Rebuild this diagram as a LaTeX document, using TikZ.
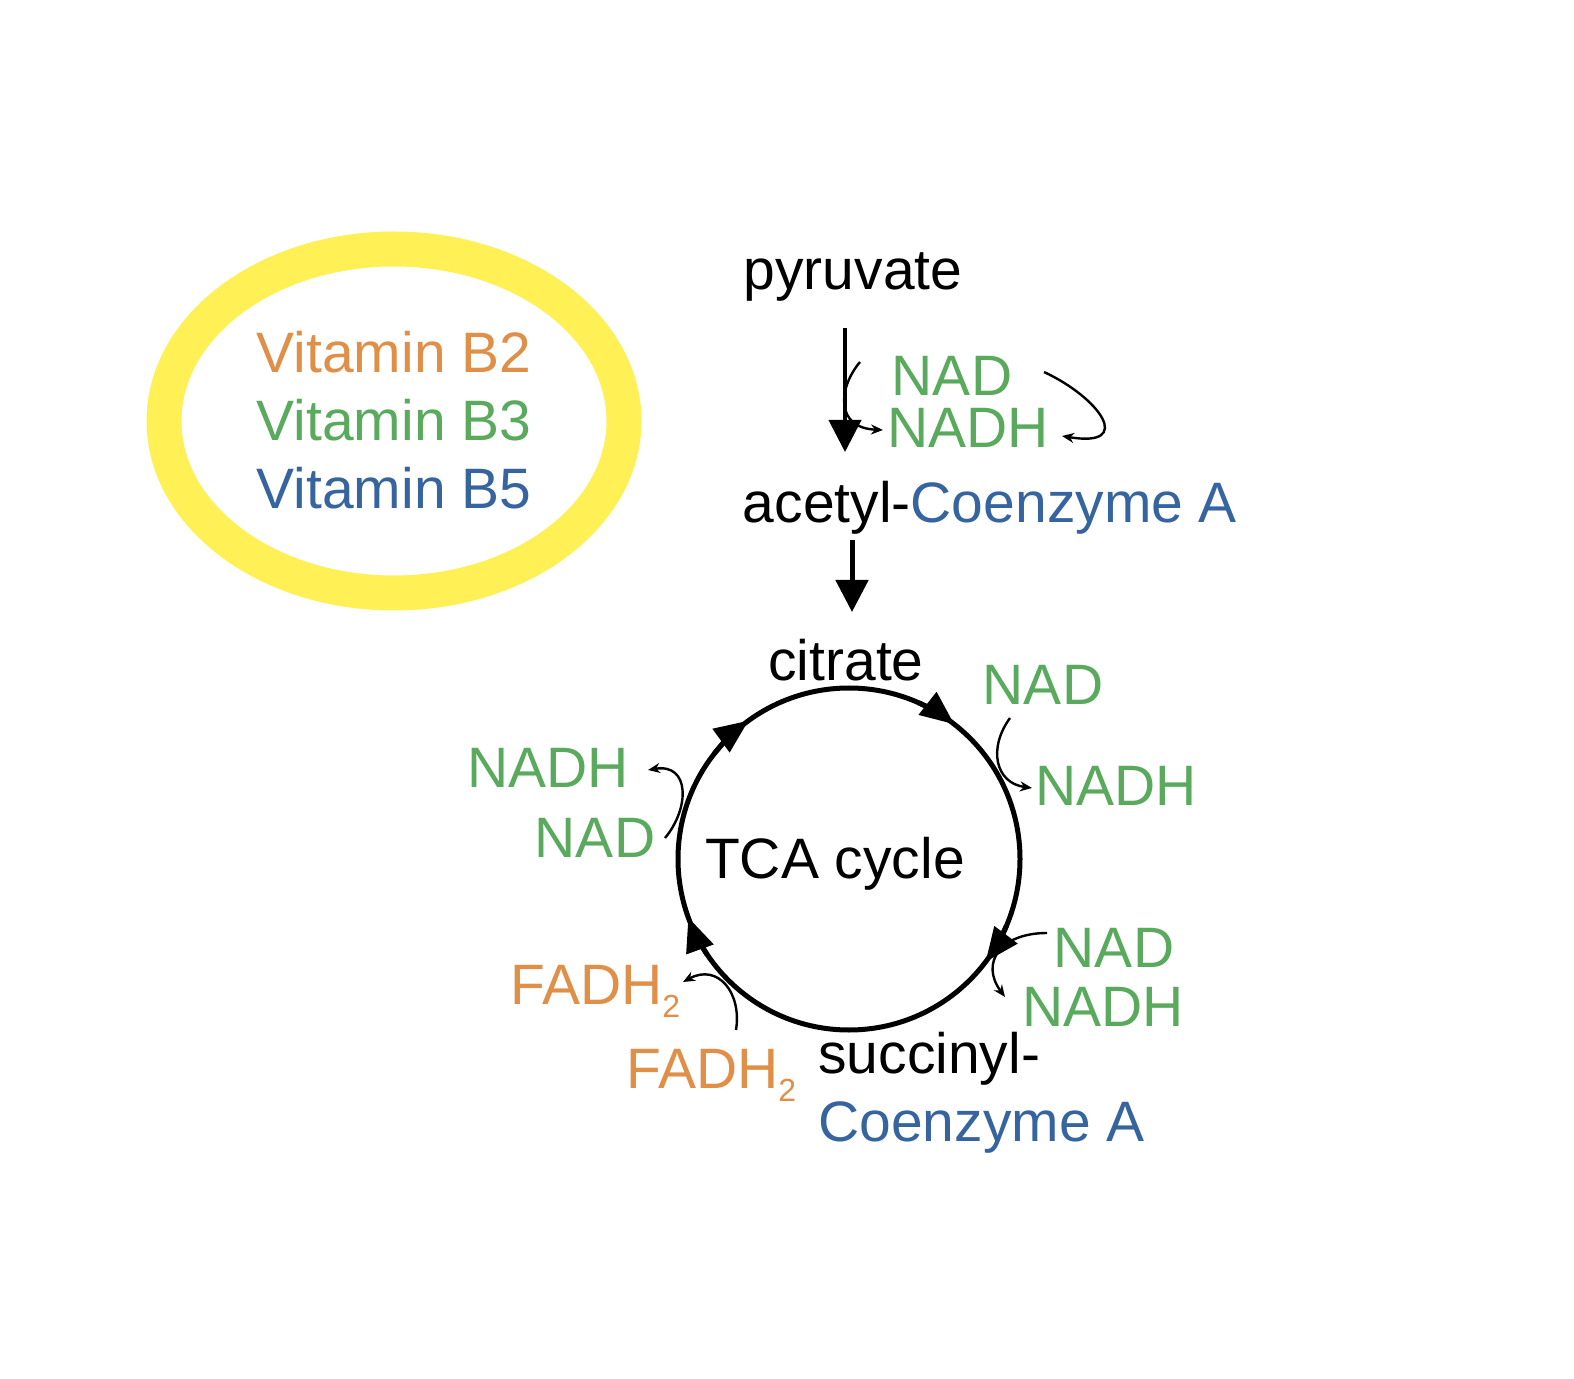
\documentclass[tikz,border=0pt]{standalone}
\usepackage{fontspec}
\setmainfont{Liberation Sans}
\usetikzlibrary{arrows.meta}
\definecolor{yel}{HTML}{FFF055}
\definecolor{org}{HTML}{E08F48}
\definecolor{grn}{HTML}{5AAA5E}
\definecolor{blu}{HTML}{36649E}
\newcommand{\lowsub}[1]{\raisebox{-0.45ex}{\fontsize{16}{18}\selectfont #1}}
\begin{document}
\begin{tikzpicture}[x=0.5pt,y=0.5pt,
  lbl/.style={font=\fontsize{28.5}{32}\selectfont, inner sep=0pt},
  small/.style={line width=1.2pt,-{Stealth[length=6pt,width=5pt]}},
  cyc/.style={line width=2.5pt,-{Triangle[length=17pt,width=14pt]}}]
\useasboundingbox (0,0) rectangle (1574,1378);
% vitamins
\draw[yel,line width=17.5pt] (394,957) ellipse[x radius=115pt,y radius=86pt];
\node[lbl,org] (b2) at (394,1026) {Vitamin B2};
\node[lbl,grn] (b3) at (394,958) {Vitamin B3};
\node[lbl,blu] (b5) at (394,890) {Vitamin B5};
% top
\node[lbl] (pyr) at (853,1101) {pyruvate};
\node[lbl,grn] (nad1) at (952,1002) {NAD};
\node[lbl,grn] (nadh1) at (968,950) {NADH};
\node[lbl] (acoa) at (990,870) {acetyl-\textcolor{blu}{Coenzyme A}};
\node[lbl] (cit) at (846,718) {citrate};
\coordinate (p1) at (845,1050);
\coordinate (p2) at (845,926);
\draw[line width=2pt,-{Triangle[length=16pt,width=16pt]}] (p1) -- (p2);
\coordinate (a1) at (852,838);
\coordinate (a2) at (852,766);
\draw[line width=2.5pt,-{Triangle[length=16pt,width=16pt]}] (a1) -- (a2);
\coordinate (c1s) at (860,1016); \coordinate (c1e) at (883,948);
\draw[small] (c1s) .. controls (838,990) and (835,950) .. (c1e);
\coordinate (c2s) at (1044,1006); \coordinate (c2e) at (1062,942);
\draw[small] (c2s) .. controls (1100,980) and (1135,930) .. (c2e);
% cycle
\coordinate (cc) at (849,519);
\draw[line width=2.5pt] (cc) circle[radius=85.5pt];
\node[lbl] (tca) at (835,514) {TCA cycle};
\draw[cyc] ([shift={(cc)}]142:85.5pt) arc[start angle=142,end angle=126,radius=85.5pt];
\draw[cyc] ([shift={(cc)}]66:85.5pt) arc[start angle=66,end angle=52,radius=85.5pt];
\draw[cyc] ([shift={(cc)}]-23:85.5pt) arc[start angle=-23,end angle=-37,radius=85.5pt];
\draw[cyc] ([shift={(cc)}]214:85.5pt) arc[start angle=214,end angle=200,radius=85.5pt];
% cofactors
\node[lbl,grn] (nad2) at (1043,693) {NAD};
\node[lbl,grn] (nadh2) at (1116,592) {NADH};
\coordinate (d1s) at (1010,660); \coordinate (d1e) at (1032,590);
\draw[small] (d1s) .. controls (988,630) and (995,595) .. (d1e);
\node[lbl,grn] (nadh3) at (548,610) {NADH};
\node[lbl,grn] (nad3) at (595,540) {NAD};
\coordinate (d2s) at (665,540); \coordinate (d2e) at (648,608);
\draw[small] (d2s) .. controls (690,570) and (690,615) .. (d2e);
\node[lbl,grn] (nad4) at (1114,430) {NAD};
\node[lbl,grn] (nadh4) at (1103,371) {NADH};
\coordinate (d3s) at (1047,445); \coordinate (d3e) at (1005,381);
\draw[small] (d3s) .. controls (1000,445) and (980,415) .. (d3e);
\node[lbl,org,anchor=base west] (f1) at (510,374) {FADH\lowsub{2}};
\node[lbl,org,anchor=base west] (f2) at (626,290) {FADH\lowsub{2}};
\coordinate (d4s) at (736,348); \coordinate (d4e) at (683,396);
\draw[small] (d4s) .. controls (742,385) and (718,415) .. (d4e);
\node[lbl,anchor=base west] (suc) at (818,305) {succinyl-};
\node[lbl,blu,anchor=base west] (scoa) at (818,237) {Coenzyme A};
\end{tikzpicture}
\end{document}
